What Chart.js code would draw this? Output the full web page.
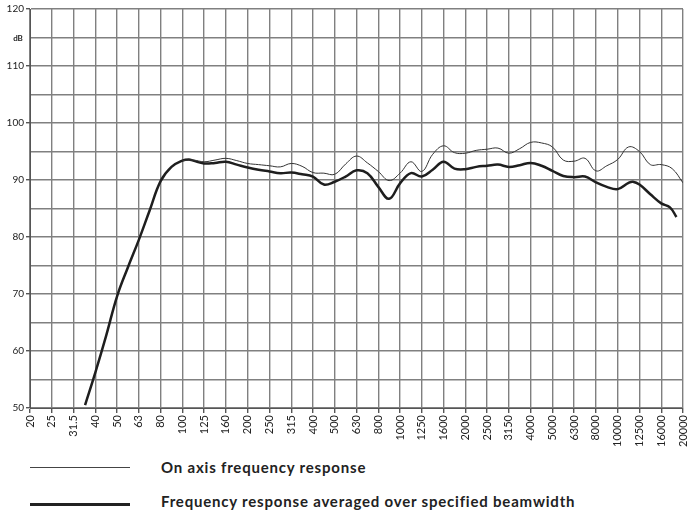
<!DOCTYPE html>
<html>
<head>
<meta charset="utf-8">
<script src="https://cdn.jsdelivr.net/npm/chart.js@4"></script>
<style>
  body { margin: 0; background: #fff; width: 688px; height: 516px; overflow: hidden; position: relative; font-family: Lato, "Open Sans", sans-serif; }
  #wrap { position: absolute; left: 0; top: 0; width: 688px; height: 450px; }
  .lg-line { position: absolute; left: 30px; width: 100px; background: #222; }
  .lg-text { position: absolute; left: 161px; font-weight: bold; font-size: 15px; letter-spacing: 0.8px; color: #222; line-height: 18px; white-space: nowrap; }
</style>
</head>
<body>
<div id="wrap"><canvas id="chart"></canvas></div>
<div class="lg-line" style="top:467px;height:1px;background:#444"></div>
<div class="lg-text" style="top:458px">On axis frequency response</div>
<div class="lg-line" style="top:503px;height:3px"></div>
<div class="lg-text" style="top:492px">Frequency response averaged over specified beamwidth</div>
<script>
const freqLabels = ["20", "25", "31.5", "40", "50", "63", "80", "100", "125", "160", "200", "250", "315", "400", "500", "630", "800", "1000", "1250", "1600", "2000", "2500", "3150", "4000", "5000", "6300", "8000", "10000", "12500", "16000", "20000"];

// positions are band indexes (0 = 20 Hz ... 30 = 20 kHz)
const avgPos = [2.53, 3, 3.5, 4, 4.5, 5, 5.5, 6, 6.5, 7, 7.3, 7.5, 8, 8.5, 9, 9.5, 10, 10.5, 11, 11.5, 12, 12.5, 13, 13.5, 14, 14.5, 15, 15.5, 16, 16.5, 17, 17.5, 18, 18.5, 19, 19.5, 20, 20.5, 21, 21.5, 22, 22.5, 23, 23.5, 24, 24.5, 25, 25.5, 26, 26.5, 27, 27.5, 27.7, 28, 28.5, 29, 29.4, 29.7];
const avgDb = [50.5, 56.2, 62.7, 69.6, 74.7, 79.5, 84.7, 89.8, 92.3, 93.4, 93.6, 93.4, 92.9, 93.0, 93.2, 92.7, 92.2, 91.8, 91.5, 91.2, 91.3, 91.0, 90.6, 89.2, 89.7, 90.6, 91.7, 91.2, 88.8, 86.7, 89.4, 91.2, 90.6, 91.8, 93.2, 92.0, 91.9, 92.3, 92.5, 92.7, 92.3, 92.6, 93.0, 92.5, 91.6, 90.7, 90.5, 90.6, 89.6, 88.8, 88.4, 89.5, 89.7, 89.2, 87.5, 85.9, 85.2, 83.5];

const onAxisPos = [7, 7.5, 8, 8.5, 9, 9.5, 10, 10.5, 11, 11.5, 12, 12.5, 13, 13.5, 14, 14.5, 15, 15.5, 16, 16.5, 17, 17.5, 18, 18.5, 19, 19.5, 20, 20.5, 21, 21.5, 22, 22.5, 23, 23.5, 24, 24.5, 25, 25.5, 26, 26.5, 27, 27.5, 28, 28.5, 29, 29.5, 30];
const onAxisDb = [93.4, 93.5, 93.2, 93.5, 93.8, 93.4, 92.9, 92.7, 92.5, 92.3, 92.9, 92.4, 91.3, 91.2, 91.0, 92.8, 94.2, 93.0, 91.5, 89.9, 91.2, 93.2, 91.5, 94.5, 96.0, 94.8, 94.7, 95.2, 95.4, 95.6, 94.7, 95.5, 96.6, 96.5, 95.8, 93.5, 93.3, 93.8, 91.6, 92.5, 93.6, 95.8, 95.0, 92.7, 92.7, 92.0, 89.5];

const toPoints = (xs, ys) => xs.map((x, i) => ({ x: x, y: ys[i] }));

// little "dB" unit mark under the top label
const unitMark = {
  id: "unitMark",
  afterDraw(chart) {
    const c = chart.ctx;
    c.save();
    c.font = "bold 8px Lato, sans-serif";
    c.fillStyle = "#222";
    c.textAlign = "center";
    c.textBaseline = "middle";
    c.fillText("dB", 18, 38);
    c.restore();
  },
};

new Chart(document.getElementById("chart"), {
  type: "line",
  data: {
    datasets: [
      {
        label: "On axis frequency response",
        data: toPoints(onAxisPos, onAxisDb),
        borderColor: "#333",
        borderWidth: 1,
        pointRadius: 0,
        tension: 0.4,
      },
      {
        label: "Frequency response averaged over specified beamwidth",
        data: toPoints(avgPos, avgDb),
        borderColor: "#1e1e1e",
        borderWidth: 2.5,
        pointRadius: 0,
        tension: 0.4,
      },
    ],
  },
  options: {
    responsive: true,
    maintainAspectRatio: false,
    animation: false,
    layout: { padding: { top: 9, right: 5, left: 0, bottom: 0 } },
    plugins: { legend: { display: false }, tooltip: { enabled: false } },
    scales: {
      x: {
        type: "linear",
        min: 0,
        max: 30,
        afterFit: (s) => {
          s.height = 42;
          s.paddingLeft = 0;
          s.paddingRight = 0;
        },
        grid: { color: "#808080", lineWidth: 1.4, tickLength: 5, tickColor: "#555" },
        border: { color: "#555" },
        ticks: {
          stepSize: 1,
          autoSkip: false,
          minRotation: 90,
          maxRotation: 90,
          padding: 2,
          color: "#222",
          font: { family: "Lato, sans-serif", size: 11 },
          callback: (v) => freqLabels[v] ?? "",
        },
      },
      y: {
        min: 50,
        max: 120,
        afterFit: (s) => { s.width = 30; },
        grid: {
          color: "#808080",
          lineWidth: 1.4,
          tickLength: 4,
          tickColor: (ctx) => (ctx.tick && ctx.tick.value % 10 === 0 ? "#555" : "transparent"),
        },
        border: { color: "#555" },
        ticks: {
          stepSize: 5,
          padding: 2,
          color: "#222",
          font: { family: "Lato, sans-serif", size: 10 },
          callback: (v) => (v % 10 === 0 ? v : ""),
        },
      },
    },
  },
  plugins: [unitMark],
});
</script>
</body>
</html>
